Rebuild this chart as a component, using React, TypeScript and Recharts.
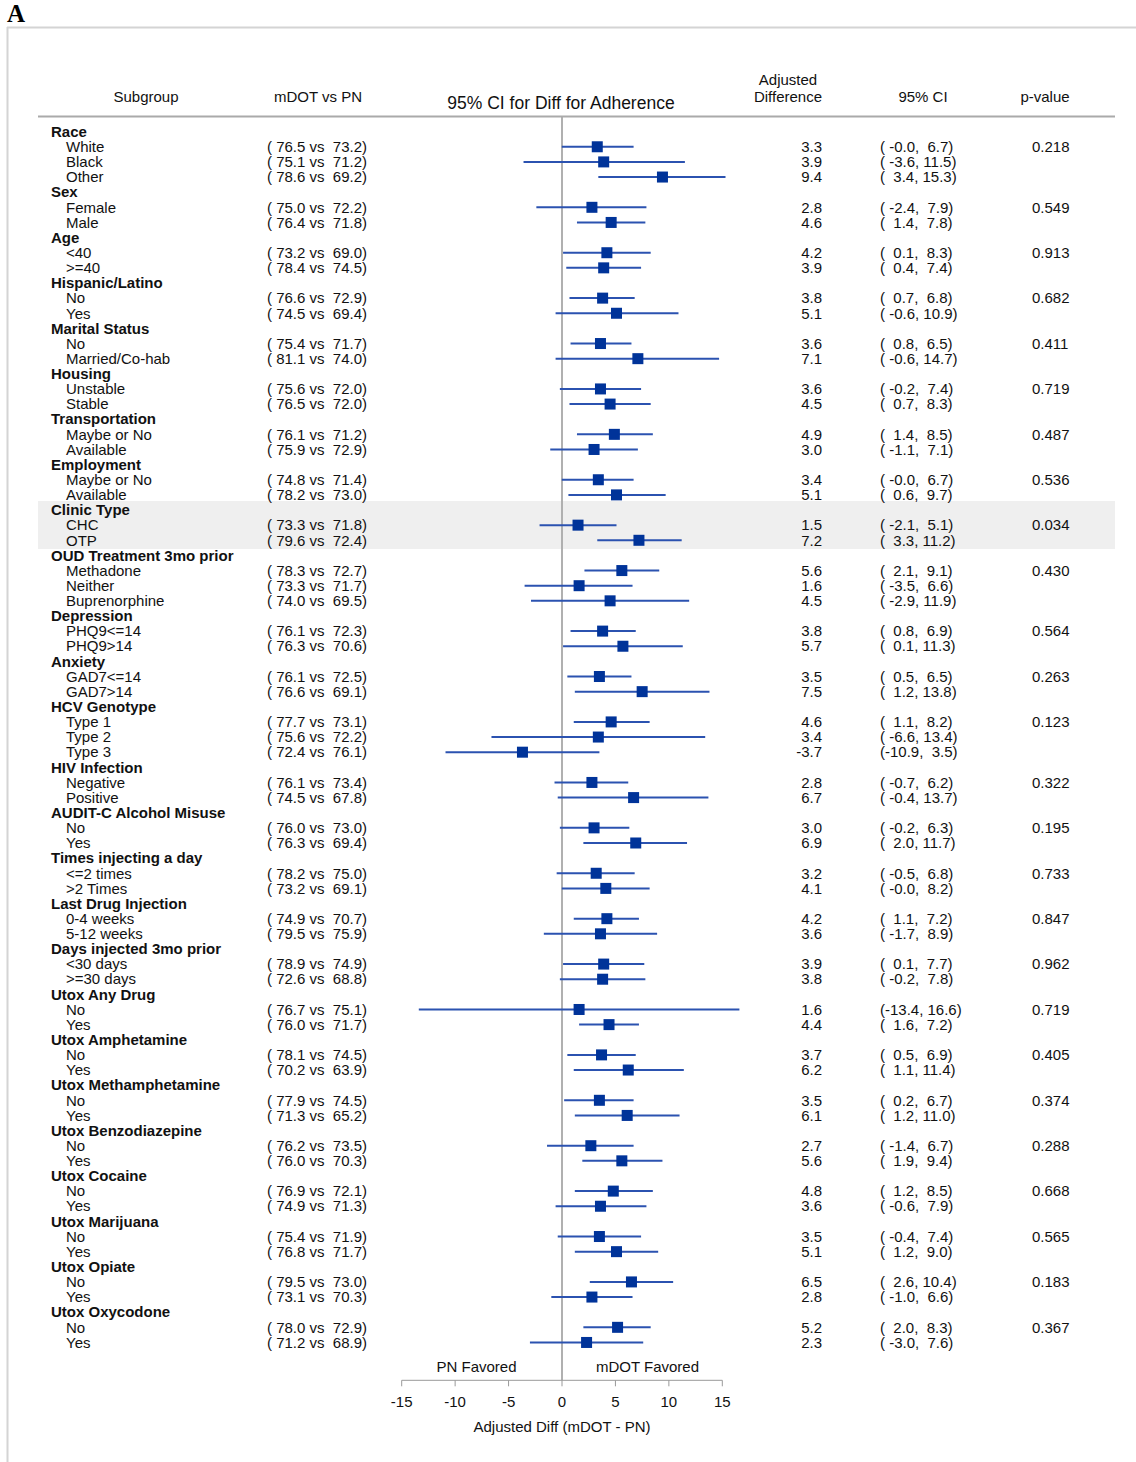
import React from 'react';
import { ScatterChart, Scatter, XAxis, YAxis, ReferenceLine, ReferenceDot } from 'recharts';

const groupNames = [
  'Race', 'Sex', 'Age', 'Hispanic/Latino', 'Marital Status', 'Housing', 'Transportation', 'Employment',
  'Clinic Type', 'OUD Treatment 3mo prior', 'Depression', 'Anxiety', 'HCV Genotype', 'HIV Infection',
  'AUDIT-C Alcohol Misuse', 'Times injecting a day', 'Last Drug Injection', 'Days injected 3mo prior',
  'Utox Any Drug', 'Utox Amphetamine', 'Utox Methamphetamine', 'Utox Benzodiazepine', 'Utox Cocaine',
  'Utox Marijuana', 'Utox Opiate', 'Utox Oxycodone',
];
const groupSizes = [3, 2, 2, 2, 2, 2, 2, 2, 2, 3, 2, 2, 3, 2, 2, 2, 2, 2, 2, 2, 2, 2, 2, 2, 2, 2];
const pValues = [
  '0.218', '0.549', '0.913', '0.682', '0.411', '0.719', '0.487', '0.536', '0.034', '0.430', '0.564', '0.263',
  '0.123', '0.322', '0.195', '0.733', '0.847', '0.962', '0.719', '0.405', '0.374', '0.288', '0.668', '0.565',
  '0.183', '0.367',
];
const levelNames = [
  'White', 'Black', 'Other', 'Female', 'Male', '<40', '>=40', 'No', 'Yes', 'No', 'Married/Co-hab',
  'Unstable', 'Stable', 'Maybe or No', 'Available', 'Maybe or No', 'Available', 'CHC', 'OTP',
  'Methadone', 'Neither', 'Buprenorphine', 'PHQ9<=14', 'PHQ9>14', 'GAD7<=14', 'GAD7>14',
  'Type 1', 'Type 2', 'Type 3', 'Negative', 'Positive', 'No', 'Yes', '<=2 times', '>2 Times',
  '0-4 weeks', '5-12 weeks', '<30 days', '>=30 days', 'No', 'Yes', 'No', 'Yes', 'No', 'Yes', 'No', 'Yes',
  'No', 'Yes', 'No', 'Yes', 'No', 'Yes', 'No', 'Yes',
];
const mdotMeans = [
  76.5, 75.1, 78.6, 75.0, 76.4, 73.2, 78.4, 76.6, 74.5, 75.4, 81.1, 75.6, 76.5, 76.1, 75.9, 74.8, 78.2,
  73.3, 79.6, 78.3, 73.3, 74.0, 76.1, 76.3, 76.1, 76.6, 77.7, 75.6, 72.4, 76.1, 74.5, 76.0, 76.3, 78.2,
  73.2, 74.9, 79.5, 78.9, 72.6, 76.7, 76.0, 78.1, 70.2, 77.9, 71.3, 76.2, 76.0, 76.9, 74.9, 75.4, 76.8,
  79.5, 73.1, 78.0, 71.2,
];
const pnMeans = [
  73.2, 71.2, 69.2, 72.2, 71.8, 69.0, 74.5, 72.9, 69.4, 71.7, 74.0, 72.0, 72.0, 71.2, 72.9, 71.4, 73.0,
  71.8, 72.4, 72.7, 71.7, 69.5, 72.3, 70.6, 72.5, 69.1, 73.1, 72.2, 76.1, 73.4, 67.8, 73.0, 69.4, 75.0,
  69.1, 70.7, 75.9, 74.9, 68.8, 75.1, 71.7, 74.5, 63.9, 74.5, 65.2, 73.5, 70.3, 72.1, 71.3, 71.9, 71.7,
  73.0, 70.3, 72.9, 68.9,
];
const adjDiff = [
  3.3, 3.9, 9.4, 2.8, 4.6, 4.2, 3.9, 3.8, 5.1, 3.6, 7.1, 3.6, 4.5, 4.9, 3.0, 3.4, 5.1, 1.5, 7.2, 5.6, 1.6,
  4.5, 3.8, 5.7, 3.5, 7.5, 4.6, 3.4, -3.7, 2.8, 6.7, 3.0, 6.9, 3.2, 4.1, 4.2, 3.6, 3.9, 3.8, 1.6, 4.4, 3.7,
  6.2, 3.5, 6.1, 2.7, 5.6, 4.8, 3.6, 3.5, 5.1, 6.5, 2.8, 5.2, 2.3,
];
const ciLower = [
  -0.02, -3.6, 3.4, -2.4, 1.4, 0.1, 0.4, 0.7, -0.6, 0.8, -0.6, -0.2, 0.7, 1.4, -1.1, -0.02, 0.6, -2.1, 3.3,
  2.1, -3.5, -2.9, 0.8, 0.1, 0.5, 1.2, 1.1, -6.6, -10.9, -0.7, -0.4, -0.2, 2.0, -0.5, -0.02, 1.1, -1.7,
  0.1, -0.2, -13.4, 1.6, 0.5, 1.1, 0.2, 1.2, -1.4, 1.9, 1.2, -0.6, -0.4, 1.2, 2.6, -1.0, 2.0, -3.0,
];
const ciUpper = [
  6.7, 11.5, 15.3, 7.9, 7.8, 8.3, 7.4, 6.8, 10.9, 6.5, 14.7, 7.4, 8.3, 8.5, 7.1, 6.7, 9.7, 5.1, 11.2, 9.1,
  6.6, 11.9, 6.9, 11.3, 6.5, 13.8, 8.2, 13.4, 3.5, 6.2, 13.7, 6.3, 11.7, 6.8, 8.2, 7.2, 8.9, 7.7, 7.8,
  16.6, 7.2, 6.9, 11.4, 6.7, 11.0, 6.7, 9.4, 8.5, 7.9, 7.4, 9.0, 10.4, 6.6, 8.3, 7.6,
];
const xTicks = [-15, -10, -5, 0, 5, 10, 15];
const favoredLabels = ['PN Favored', 'mDOT Favored'];
const favoredX = [-8, 8];
const shadedGroup = 'Clinic Type';

type Row = {
  row: number; header: boolean; label: string;
  mdot?: number; pn?: number; est?: number; lo?: number; hi?: number; p?: string;
};

const rows: Row[] = [];
{
  let idx = 1;
  let li = 0;
  groupNames.forEach((g, gi) => {
    rows.push({ row: idx++, header: true, label: g });
    for (let k = 0; k < groupSizes[gi]; k++) {
      rows.push({
        row: idx++, header: false, label: levelNames[li], mdot: mdotMeans[li], pn: pnMeans[li],
        est: adjDiff[li], lo: ciLower[li], hi: ciUpper[li], p: k === 0 ? pValues[gi] : '',
      });
      li++;
    }
  });
}
const levelRows = rows.filter((r) => !r.header);

const fmt5 = (v: number) => v.toFixed(1).padStart(5, ' ');

const FONT = '"Liberation Sans", Arial, sans-serif';
const FS = 15;
const TXT = '#111';

const W = 1136;
const H = 1462;
const PLOT_LEFT = 401.7;
const PLOT_RIGHT = 722.3;
const PLOT_TOP = 116.5;
const PLOT_BOTTOM = 1380.3;
const XAXIS_H = 80;
const Y_MAX = 83.5;

const RowText = (props: any) => {
  const { cy, payload } = props;
  const r: Row = payload;
  if (cy == null || !r) return null;
  const y = cy;
  const common = { fontFamily: FONT, fontSize: FS, fill: TXT, dy: '0.35em', xmlSpace: 'preserve' as any, style: { whiteSpace: 'pre' as const } };
  if (r.header) {
    return (
      <g>
        <text x={51} y={y} {...common} fontWeight="bold">{r.label}</text>
      </g>
    );
  }
  return (
    <g>
      <text x={66} y={y} {...common}>{r.label}</text>
      <text x={267} y={y} {...common}>{`(${fmt5(r.mdot!)} vs ${fmt5(r.pn!)})`}</text>
      <text x={822} y={y} {...common} textAnchor="end">{r.est!.toFixed(1)}</text>
      <text x={880} y={y} {...common}>{`(${fmt5(r.lo!)},${fmt5(r.hi!)})`}</text>
      <text x={1032} y={y} {...common}>{r.p}</text>
    </g>
  );
};

const SquareShape = (props: any) => {
  const { cx, cy } = props;
  if (cx == null || cy == null) return null;
  return <rect x={cx - 5.5} y={cy - 5.5} width={11} height={11} fill="#003399" />;
};

const shadeRows = (() => {
  const start = rows.findIndex((r) => r.header && r.label === shadedGroup);
  const gi = groupNames.indexOf(shadedGroup);
  return { first: rows[start].row, last: rows[start].row + groupSizes[gi] };
})();
const rowPx = (PLOT_BOTTOM - PLOT_TOP) / Y_MAX;
const shadeTop = PLOT_TOP + (shadeRows.first - 0.6) * rowPx;
const shadeBottom = PLOT_TOP + (shadeRows.last + 0.58) * rowPx;

export default function App() {
  return (
    <div style={{ position: 'absolute', left: 0, top: 0, width: W, height: H, background: '#fff' }}>
      <div style={{ position: 'absolute', left: 38, top: shadeTop, width: 1077, height: shadeBottom - shadeTop, background: '#efefef' }} />
      <div style={{ position: 'absolute', left: 0, top: 0 }}>
        <ScatterChart
          width={W}
          height={H}
          margin={{ top: PLOT_TOP, left: PLOT_LEFT, right: W - PLOT_RIGHT, bottom: H - PLOT_BOTTOM - XAXIS_H }}
        >
          <XAxis
            type="number"
            dataKey="est"
            domain={[-15, 15]}
            ticks={xTicks}
            interval={0}
            allowDataOverflow
            height={XAXIS_H}
            stroke="#999"
            tickSize={6}
            tickMargin={10}
            tick={{ fontFamily: FONT, fontSize: FS, fill: TXT }}
            label={{ value: 'Adjusted Diff (mDOT - PN)', position: 'insideBottom', offset: 28, fontFamily: FONT, fontSize: FS, fill: TXT }}
          />
          <XAxis xAxisId="text" type="number" dataKey="row" domain={[0, Y_MAX]} hide />
          <YAxis type="number" dataKey="row" domain={[0, Y_MAX]} reversed hide />
          <ReferenceLine x={0} stroke="#b0b0b0" strokeWidth={2} />
          {levelRows.map((r) => (
            <ReferenceLine
              key={`ci-${r.row}`}
              segment={[{ x: r.lo!, y: r.row }, { x: r.hi!, y: r.row }]}
              stroke="#2b52b0"
              strokeWidth={2}
              ifOverflow="visible"
            />
          ))}
          {favoredLabels.map((t, i) => (
            <ReferenceDot
              key={t}
              x={favoredX[i]}
              y={82.6}
              r={0}
              fill="none"
              stroke="none"
              label={{ value: t, position: 'center', fontFamily: FONT, fontSize: FS, fill: TXT }}
            />
          ))}
          <Scatter data={levelRows} shape={<SquareShape />} isAnimationActive={false} />
          <Scatter xAxisId="text" data={rows} shape={<RowText />} isAnimationActive={false} />
        </ScatterChart>
      </div>
      <svg width={W} height={H} style={{ position: 'absolute', left: 0, top: 0, pointerEvents: 'none' }}>
        <line x1={7} y1={27.5} x2={W} y2={27.5} stroke="#d4d4d4" strokeWidth={2} />
        <line x1={7.5} y1={27} x2={7.5} y2={H} stroke="#d4d4d4" strokeWidth={2} />
        <text x={7} y={22} fontFamily='"Liberation Serif", "Times New Roman", serif' fontWeight="bold" fontSize={25} fill="#000">A</text>
        <line x1={38} y1={116.5} x2={1115} y2={116.5} stroke="#aaa" strokeWidth={2} />
        <g fontFamily={FONT} fontSize={FS} fill={TXT} textAnchor="middle">
          <text x={146} y={97} dy="0.35em">Subgroup</text>
          <text x={318} y={97} dy="0.35em">mDOT vs PN</text>
          <text x={788} y={80} dy="0.35em">Adjusted</text>
          <text x={788} y={97} dy="0.35em">Difference</text>
          <text x={923} y={97} dy="0.35em">95% CI</text>
          <text x={1045} y={97} dy="0.35em">p-value</text>
          <text x={561} y={103} dy="0.35em" fontSize={17.5}>95% CI for Diff for Adherence</text>
        </g>
      </svg>
    </div>
  );
}
